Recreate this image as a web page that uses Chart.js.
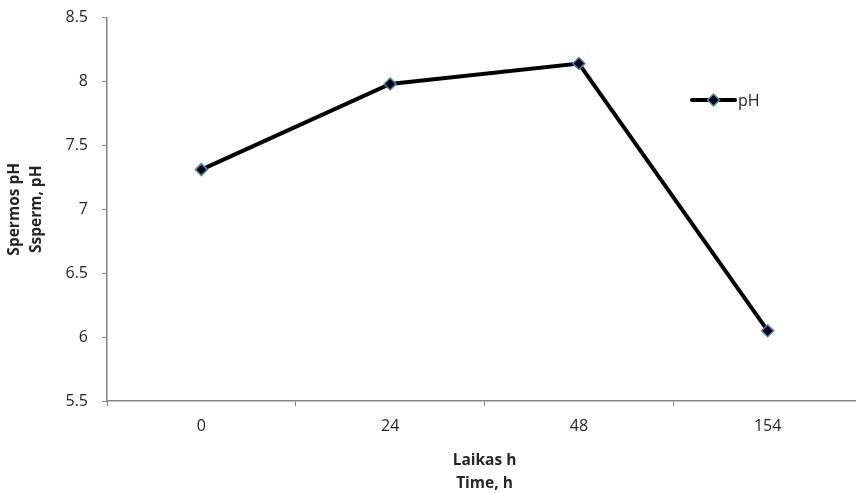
<!DOCTYPE html>
<html>
<head>
<meta charset="utf-8">
<script src="https://cdn.jsdelivr.net/npm/chart.js@4.4.1/dist/chart.umd.min.js"></script>
<style>
  html, body { margin: 0; padding: 0; background: #fff; overflow: hidden; }
  #wrap { width: 862px; height: 493px; }
</style>
</head>
<body>
<div id="wrap"><canvas id="c" width="862" height="493"></canvas></div>
<script>
// Sperm pH over time
const timeLabels = ['0', '24', '48', '154'];
const phValues = [7.31, 7.98, 8.14, 6.05];
const seriesName = 'pH';
const yTitle = ['Spermos pH', 'Ssperm, pH'];
const xTitle = ['Laikas h', 'Time, h'];

const FONT = '"Open Sans", Lato, "Liberation Sans", sans-serif';
const AXIS = '#868686';
const TEXT = '#262626';

// Legend entry drawn as a short line with the marker in its middle
const lineLegend = {
  id: 'lineLegend',
  afterDraw(chart) {
    const ds = chart.data.datasets[0];
    const ctx = chart.ctx;
    const x0 = 692, x1 = 735, y = 100;
    ctx.save();
    ctx.strokeStyle = ds.borderColor;
    ctx.lineWidth = ds.borderWidth;
    ctx.lineCap = 'round';
    ctx.beginPath();
    ctx.moveTo(x0, y);
    ctx.lineTo(x1, y);
    ctx.stroke();
    ctx.fillStyle = ds.pointBackgroundColor;
    ctx.strokeStyle = ds.pointBorderColor;
    ctx.lineWidth = ds.pointBorderWidth;
    Chart.helpers.drawPoint(ctx, { pointStyle: 'rectRot', radius: ds.pointRadius, rotation: 0, borderWidth: ds.pointBorderWidth }, (x0 + x1) / 2, y);
    ctx.fillStyle = TEXT;
    ctx.font = '16px ' + FONT;
    ctx.textBaseline = 'middle';
    ctx.textAlign = 'left';
    ctx.fillText(ds.label, x1 + 3, y + 1);
    ctx.restore();
  }
};

new Chart(document.getElementById('c'), {
  type: 'line',
  data: {
    labels: timeLabels,
    datasets: [{
      label: seriesName,
      data: phValues,
      borderColor: '#000000',
      borderWidth: 4,
      tension: 0,
      pointStyle: 'rectRot',
      pointRadius: 6,
      pointHoverRadius: 6,
      pointBackgroundColor: '#000000',
      pointBorderColor: '#4f81bd',
      pointBorderWidth: 1.5
    }]
  },
  options: {
    responsive: false,
    animation: false,
    layout: { autoPadding: false, padding: { top: 17.5, right: 0, left: 0, bottom: 0 } },
    plugins: {
      legend: { display: false },
      tooltip: { enabled: false }
    },
    scales: {
      x: {
        type: 'category',
        offset: true,
        border: { color: AXIS, width: 1.5 },
        grid: { drawOnChartArea: false, drawTicks: true, tickLength: 5, offset: true, color: AXIS, lineWidth: 1 },
        ticks: { color: TEXT, font: { family: FONT, size: 16 }, padding: 11, maxRotation: 0 },
        title: {
          display: true, text: xTitle, color: TEXT,
          font: { family: FONT, size: 15.5, weight: 'bold', lineHeight: 1.5 },
          padding: { top: 0, bottom: -2.5 }
        },
        afterFit(scale) { scale.height = 92; scale.paddingLeft = 0; scale.paddingRight = 0; }
      },
      y: {
        min: 5.5, max: 8.5,
        border: { color: AXIS, width: 1.5 },
        grid: { drawOnChartArea: false, drawTicks: true, tickLength: 5, color: AXIS, lineWidth: 1 },
        ticks: {
          stepSize: 0.5, color: TEXT, font: { family: FONT, size: 16 }, padding: 14,
          callback: (v) => String(Number(v.toFixed(1)))
        },
        title: {
          display: true, text: yTitle, color: TEXT,
          font: { family: FONT, size: 15.5, weight: 'bold', lineHeight: 1.45 },
          padding: { top: 3, bottom: 0 }
        },
        afterFit(scale) { scale.width = 107; scale.paddingTop = 0; scale.paddingBottom = 0; }
      }
    }
  },
  plugins: [lineLegend]
});
</script>
</body>
</html>
